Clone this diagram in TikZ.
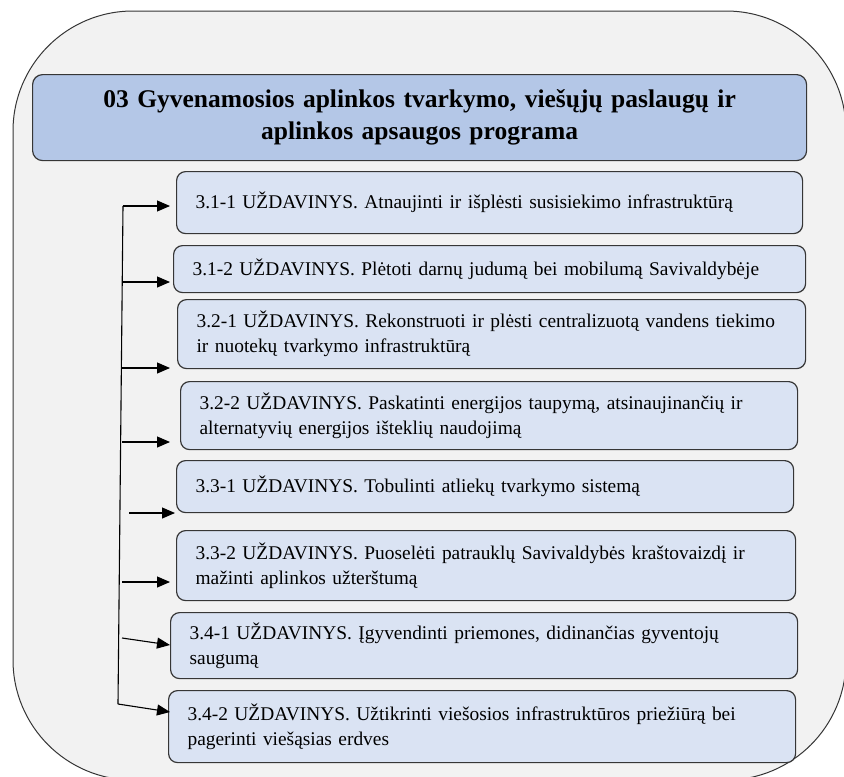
\documentclass[tikz,border=0pt]{standalone}
\usepackage{fontspec}
\setmainfont{Liberation Serif}
\usetikzlibrary{arrows.meta}

\definecolor{framegray}{HTML}{F2F2F2}
\definecolor{progblue}{HTML}{B4C7E7}
\definecolor{taskblue}{HTML}{DAE3F3}
\definecolor{edgegray}{HTML}{363636}

\tikzset{
    progbox/.style={draw=edgegray, line width=1.2pt, fill=progblue, rounded corners=10pt,
        anchor=north west, align=center, inner sep=0pt,
        font=\fontsize{25.5}{32}\selectfont\bfseries},
    taskbox/.style={draw=edgegray, line width=1.2pt, fill=taskblue, rounded corners=9pt,
        anchor=north west, align=left, inner xsep=19pt, inner ysep=0pt,
        font=\fontsize{19.4}{25}\selectfont},
    arr/.style={-{Triangle[length=13pt,width=11pt]}, line width=1.1pt}
}

\begin{document}
\begin{tikzpicture}[x=1pt,y=-1pt]
        % frame
        \clip (0,0) rectangle (844,777);
        \fill[white] (0,0) rectangle (844,777);
        \draw[edgegray, fill=framegray, line width=1pt, rounded corners=120pt] (13,11) rectangle (846,780);
        % program
        \node[progbox, text width=774pt, minimum height=86pt] (prog) at (32,74)
            {03 Gyvenamosios aplinkos tvarkymo, viešųjų paslaugų ir\\aplinkos apsaugos programa};
        % tasks
        \node[taskbox, text width=588pt, minimum height=62pt] (t11) at (176,171)
            {3.1-1 UŽDAVINYS. Atnaujinti ir išplėsti susisiekimo infrastruktūrą};
        \node[taskbox, text width=594pt, minimum height=47pt] (t12) at (173,245)
            {3.1-2 UŽDAVINYS. Plėtoti darnų judumą bei mobilumą Savivaldybėje};
        \node[taskbox, text width=590pt, minimum height=69pt] (t21) at (177,299)
            {3.2-1 UŽDAVINYS. Rekonstruoti ir plėsti centralizuotą vandens tiekimo\\ir nuotekų tvarkymo infrastruktūrą};
        \node[taskbox, text width=579pt, minimum height=68pt] (t22) at (180,381)
            {3.2-2 UŽDAVINYS. Paskatinti energijos taupymą, atsinaujinančių ir\\alternatyvių energijos išteklių naudojimą};
        \node[taskbox, text width=579pt, minimum height=52pt] (t31) at (176,460)
            {3.3-1 UŽDAVINYS. Tobulinti atliekų tvarkymo sistemą};
        \node[taskbox, text width=581pt, minimum height=70pt] (t32) at (176,530)
            {3.3-2 UŽDAVINYS. Puoselėti patrauklų Savivaldybės kraštovaizdį ir\\mažinti aplinkos užterštumą};
        \node[taskbox, text width=589pt, minimum height=66pt] (t41) at (170,612)
            {3.4-1 UŽDAVINYS. Įgyvendinti priemones, didinančias gyventojų\\saugumą};
        \node[taskbox, text width=589pt, minimum height=72pt] (t42) at (168,690)
            {3.4-2 UŽDAVINYS. Užtikrinti viešosios infrastruktūros priežiūrą bei\\pagerinti viešąsias erdves};
        % arrows
        \coordinate (s1) at (123,206);
        \coordinate (s2) at (123,282);
        \coordinate (s3) at (122,368);
        \coordinate (s4) at (122,442);
        \coordinate (s5) at (129,513);
        \coordinate (s6) at (122,582);
        \coordinate (s7) at (122,638);
        \coordinate (s8) at (118,704);
        \coordinate (e7) at (170,645);
        \coordinate (e8) at (170,712);
        \draw[line width=1.1pt, line join=round] (s1) -- (s8);
        \draw[arr, shorten >=6pt] (s1) -- (s1 -| t11.west);
        \draw[arr, shorten >=3pt] (s2) -- (s2 -| t12.west);
        \draw[arr, shorten >=7pt] (s3) -- (s3 -| t21.west);
        \draw[arr, shorten >=10pt] (s4) -- (s4 -| t22.west);
        \draw[arr, shorten >=1pt] (s5) -- (s5 -| t31.west);
        \draw[arr, shorten >=6pt] (s6) -- (s6 -| t32.west);
        \draw[arr] (s7) -- (e7);
        \draw[arr] (s8) -- (e8);
\end{tikzpicture}
\end{document}
